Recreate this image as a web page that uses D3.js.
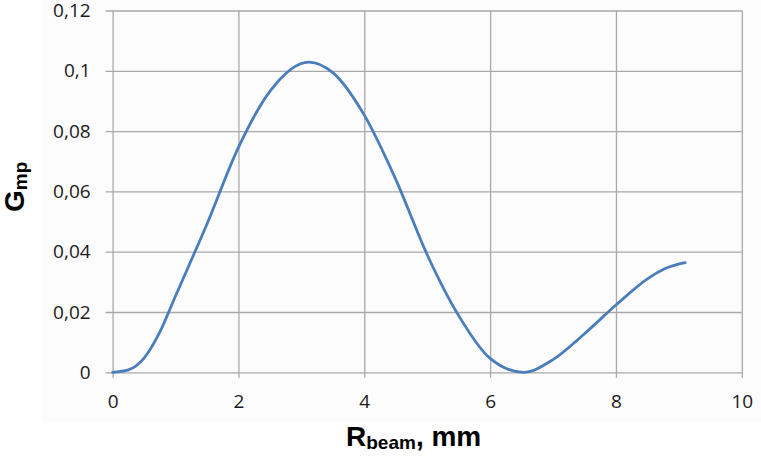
<!DOCTYPE html>
<html>
<head>
<meta charset="utf-8">
<script src="https://cdn.jsdelivr.net/npm/d3@7/dist/d3.min.js"></script>
<style>
  html, body { margin: 0; padding: 0; background: #ffffff; }
  svg { display: block; }
</style>
</head>
<body>
<svg id="chart" width="761" height="457"></svg>
<script>
// ---- data ----
const rBeam = [0, 0.25, 0.5, 0.75, 1.0, 1.5, 2.0, 2.5, 3.12, 3.5, 4.0, 4.5, 5.0, 5.5, 6.0, 6.53, 7.0, 7.5, 8.0, 8.5, 8.8, 9.1];
const gmp   = [0, 0.0008, 0.0047, 0.0133, 0.0253, 0.0492, 0.0746, 0.0932, 0.1029, 0.0994, 0.0853, 0.0640, 0.0390, 0.0188, 0.0046, 0, 0.0042, 0.0128, 0.0223, 0.0310, 0.0346, 0.0364];
const xTicks = [0, 2, 4, 6, 8, 10];
const xTickLabels = ["0", "2", "4", "6", "8", "10"];
const yTicks = [0, 0.02, 0.04, 0.06, 0.08, 0.1, 0.12];
const yTickLabels = ["0", "0,02", "0,04", "0,06", "0,08", "0,1", "0,12"];
const xTitleMain = "R", xTitleSub = "beam", xTitleTail = ", mm";
const yTitleMain = "G", yTitleSub = "mp";

// ---- layout ----
const W = 761, H = 457;
const plot = { left: 112.6, right: 741.8, top: 10.5, bottom: 372.3 };
const gridColor = "#a8a8a8";
const lineColor = "#4a7ebb";
const tickFont = "'Open Sans', 'DejaVu Sans', sans-serif";
const titleFont = "'Liberation Sans', Arial, sans-serif";

const svg = d3.select("#chart");

// subtle chart-area background
svg.append("rect").attr("x", 41).attr("y", 0).attr("width", W - 41).attr("height", 421)
  .attr("fill", "#fcfcfc");

const x = d3.scaleLinear().domain([0, 10]).range([plot.left, plot.right]);
const y = d3.scaleLinear().domain([0, 0.12]).range([plot.bottom, plot.top]);

// Y axis with horizontal gridlines
const yAxis = d3.axisLeft(y)
  .tickValues(yTicks)
  .tickFormat((d, i) => yTickLabels[i])
  .tickSizeInner(plot.right - plot.left + 7)
  .tickSizeOuter(0)
  .tickPadding(15);
const gy = svg.append("g").attr("transform", `translate(${plot.right},0)`).call(yAxis);
gy.select(".domain").remove();
gy.selectAll(".tick line").attr("stroke", gridColor).attr("stroke-width", 1.3);
gy.selectAll(".tick text").attr("font-family", tickFont).attr("font-size", 19).attr("fill", "#1a1a1a");

// X axis with vertical gridlines
const xAxis = d3.axisBottom(x)
  .tickValues(xTicks)
  .tickFormat((d, i) => xTickLabels[i])
  .tickSizeInner(plot.bottom - plot.top + 5.5)
  .tickSizeOuter(0)
  .tickPadding(17);
const gx = svg.append("g").attr("transform", `translate(0,${plot.top})`).call(xAxis);
gx.select(".domain").remove();
gx.selectAll(".tick line").attr("stroke", gridColor).attr("stroke-width", 1.3);
gx.selectAll(".tick text").attr("font-family", tickFont).attr("font-size", 19).attr("fill", "#1a1a1a");

// curve
const pts = rBeam.map((v, i) => [v, gmp[i]]);
const line = d3.line().x(d => x(d[0])).y(d => y(d[1])).curve(d3.curveMonotoneX);
svg.append("path").datum(pts)
  .attr("d", line)
  .attr("fill", "none")
  .attr("stroke", lineColor)
  .attr("stroke-width", 2.8)
  .attr("stroke-linecap", "round")
  .attr("stroke-linejoin", "round");

// X title
const xt = svg.append("text")
  .attr("x", 346).attr("y", 446)
  .attr("font-family", titleFont).attr("font-weight", "bold")
  .attr("font-size", 28).attr("fill", "#000");
xt.append("tspan").text(xTitleMain);
xt.append("tspan").attr("font-size", 19).attr("dy", 3).text(xTitleSub);
xt.append("tspan").attr("dy", -3).text(xTitleTail);

// Y title (rotated)
const yt = svg.append("text")
  .attr("transform", "translate(24,212) rotate(-90)")
  .attr("font-family", titleFont).attr("font-weight", "bold")
  .attr("font-size", 28).attr("fill", "#000");
yt.append("tspan").text(yTitleMain);
yt.append("tspan").attr("font-size", 19).attr("dy", 3).text(yTitleSub);
</script>
</body>
</html>
